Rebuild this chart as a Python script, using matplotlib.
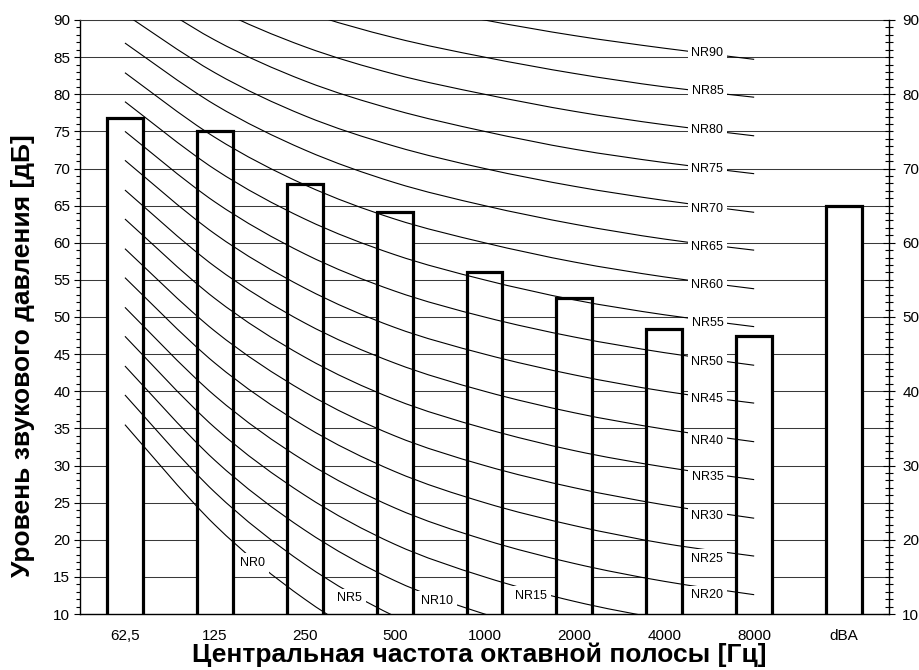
import numpy as np
import matplotlib
matplotlib.use('Agg')
import matplotlib.pyplot as plt
from matplotlib.path import Path
from matplotlib.patches import PathPatch
from matplotlib.ticker import MultipleLocator

plt.rcParams['font.family'] = ['Liberation Sans', 'DejaVu Sans']

# октавные полосы и измеренные уровни
bands = ['62,5', '125', '250', '500', '1000', '2000', '4000', '8000', 'dBA']
levels = [76.8, 75.0, 67.9, 64.1, 56.0, 52.5, 48.4, 47.4, 65.0]

# кривые NR (значения по полосам 63..8000 Гц для NR0, NR5, ..., NR90)
nr_index = [0, 5, 10, 15, 20, 25, 30, 35, 40, 45, 50, 55, 60, 65, 70, 75, 80, 85, 90]
nr_63 = [35.5, 39.5, 43.4, 47.4, 51.3, 55.3, 59.2, 63.2, 67.1, 71.1, 75.0, 79.0, 82.9, 86.9, 90.8, 94.8, 98.7, 102.7, 106.6]
nr_125 = [22.0, 26.4, 30.7, 35.1, 39.4, 43.8, 48.1, 52.5, 56.8, 61.2, 65.5, 69.9, 74.2, 78.6, 82.9, 87.3, 91.6, 96.0, 100.3]
nr_250 = [12.0, 16.7, 21.3, 26.0, 30.6, 35.3, 39.9, 44.6, 49.2, 53.9, 58.5, 63.2, 67.8, 72.5, 77.1, 81.8, 86.4, 91.1, 95.7]
nr_500 = [4.8, 9.7, 14.5, 19.4, 24.3, 29.2, 34.0, 38.9, 43.8, 48.6, 53.5, 58.4, 63.2, 68.1, 73.0, 77.9, 82.7, 87.6, 92.5]
nr_1000 = [0.0, 5.0, 10.0, 15.0, 20.0, 25.0, 30.0, 35.0, 40.0, 45.0, 50.0, 55.0, 60.0, 65.0, 70.0, 75.0, 80.0, 85.0, 90.0]
nr_2000 = [-3.5, 1.6, 6.7, 11.7, 16.8, 21.9, 27.0, 32.0, 37.1, 42.2, 47.3, 52.3, 57.4, 62.5, 67.6, 72.6, 77.7, 82.8, 87.9]
nr_4000 = [-6.1, -1.0, 4.2, 9.3, 14.4, 19.5, 24.7, 29.8, 34.9, 40.0, 45.2, 50.3, 55.4, 60.5, 65.7, 70.8, 75.9, 81.0, 86.2]
nr_8000 = [-8.0, -2.9, 2.3, 7.5, 12.6, 17.8, 22.9, 28.1, 33.2, 38.4, 43.5, 48.7, 53.8, 59.0, 64.1, 69.3, 74.4, 79.6, 84.7]

# подписи кривых: (позиция по оси x в индексах полос, уровень)
label_x = [1.42, 2.5, 3.47, 4.52] + [6.48] * 15
label_y = [16.9, 12.1, 11.8, 12.4, 12.5, 17.4, 23.2, 28.5, 33.3, 38.9, 43.9,
           49.2, 54.3, 59.4, 64.6, 69.9, 75.2, 80.4, 85.6]


def smooth_path(xs, ys):
    """сглаженная линия как в Excel (Catmull-Rom -> кривые Безье)"""
    pts = np.column_stack([xs, ys])
    verts = [pts[0]]
    codes = [Path.MOVETO]
    n = len(pts)
    for i in range(n - 1):
        p0 = pts[max(i - 1, 0)]
        p1 = pts[i]
        p2 = pts[i + 1]
        p3 = pts[min(i + 2, n - 1)]
        c1 = p1 + (p2 - p0) / 6
        c2 = p2 - (p3 - p1) / 6
        verts += [c1, c2, p2]
        codes += [Path.CURVE4] * 3
    return Path(verts, codes)


fig = plt.figure(figsize=(9.2, 6.7), dpi=100)
ax = fig.add_axes([80 / 920, 56 / 670, 809 / 920, 594 / 670])

x = np.arange(len(bands))
ax.set_xlim(-0.5, len(bands) - 0.5)
ax.set_ylim(10, 90)

# сетка
ax.yaxis.set_major_locator(MultipleLocator(5))
ax.yaxis.set_minor_locator(MultipleLocator(1))
ax.grid(axis='y', which='major', color='#3a3a3a', linewidth=0.75, zorder=0)
ax.set_axisbelow(True)

# столбцы
ax.bar(x, levels, width=0.4, bottom=0, color='white', edgecolor='black',
       linewidth=2.3, zorder=2)

# кривые NR
band_cols = [nr_63, nr_125, nr_250, nr_500, nr_1000, nr_2000, nr_4000, nr_8000]
for k in range(len(nr_index)):
    ys = [col[k] for col in band_cols]
    path = smooth_path(np.arange(8), ys)
    ax.add_patch(PathPatch(path, facecolor='none', edgecolor='black',
                           linewidth=0.8, zorder=3))

for k, nr in enumerate(nr_index):
    ax.text(label_x[k], label_y[k], f'NR{nr}', fontsize=9, ha='center', va='center',
            zorder=4, bbox=dict(boxstyle='square,pad=0.3', facecolor='white',
                                edgecolor='none'))

# оси
ax.set_xticks(x)
ax.set_xticklabels(bands, fontsize=11)
ax.tick_params(axis='x', length=0, pad=11)
ax.tick_params(axis='y', which='major', direction='out', length=4, width=0.8, labelsize=11, pad=3)
ax.tick_params(axis='y', which='minor', direction='out', length=3, width=0.8)
for s in ['left', 'bottom', 'right']:
    ax.spines[s].set_linewidth(1.0)
ax.spines['top'].set_color('#3a3a3a')
ax.spines['top'].set_linewidth(0.75)

ax2 = ax.twinx()
ax2.set_ylim(10, 90)
ax2.yaxis.set_major_locator(MultipleLocator(10))
ax2.yaxis.set_minor_locator(MultipleLocator(1))
ax2.tick_params(axis='y', which='major', direction='inout', length=9, width=0.8, labelsize=11, pad=5)
ax2.tick_params(axis='y', which='minor', direction='inout', length=6, width=0.8)
for s in ax2.spines.values():
    s.set_visible(False)

fig.text(479 / 920, 1 - 655 / 670, 'Центральная частота октавной полосы [Гц]',
         fontsize=19, fontweight='bold', ha='center', va='center')
fig.text(23 / 920, 1 - 356 / 670, 'Уровень звукового давления [дБ]',
         fontsize=19, fontweight='bold', ha='center', va='center', rotation=90)

plt.savefig('out.png', dpi=100)
